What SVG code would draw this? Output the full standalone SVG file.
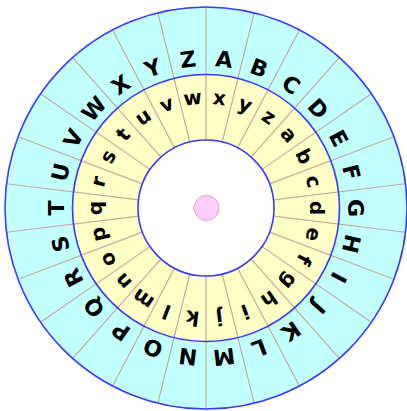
<svg xmlns="http://www.w3.org/2000/svg" xmlns:xlink="http://www.w3.org/1999/xlink" width="407" height="411" viewBox="0 0 407 411">
<style>
.ring{stroke:#3a3aff;stroke-width:1.6;}
.div{stroke:#c4a89c;stroke-width:1.2;}
.up{font-family:"DejaVu Sans",sans-serif;font-weight:bold;font-size:22px;text-anchor:middle;fill:#000;}
.lo{font-family:"DejaVu Sans",sans-serif;font-weight:bold;font-size:20px;text-anchor:middle;fill:#000;}
</style>
<defs>
<line id="d" class="div" x1="206" y1="140" x2="206" y2="7"/>
</defs>
<circle cx="206" cy="208" r="201" fill="#c2ffff"/>
<circle cx="206" cy="208" r="133.5" fill="#ffffc6"/>
<circle cx="206" cy="208" r="68" fill="#ffffff"/>
<g id="dividers">
<use xlink:href="#d" transform="rotate(0 206 208)"/>
<use xlink:href="#d" transform="rotate(13.846 206 208)"/>
<use xlink:href="#d" transform="rotate(27.692 206 208)"/>
<use xlink:href="#d" transform="rotate(41.538 206 208)"/>
<use xlink:href="#d" transform="rotate(55.385 206 208)"/>
<use xlink:href="#d" transform="rotate(69.231 206 208)"/>
<use xlink:href="#d" transform="rotate(83.077 206 208)"/>
<use xlink:href="#d" transform="rotate(96.923 206 208)"/>
<use xlink:href="#d" transform="rotate(110.769 206 208)"/>
<use xlink:href="#d" transform="rotate(124.615 206 208)"/>
<use xlink:href="#d" transform="rotate(138.462 206 208)"/>
<use xlink:href="#d" transform="rotate(152.308 206 208)"/>
<use xlink:href="#d" transform="rotate(166.154 206 208)"/>
<use xlink:href="#d" transform="rotate(180 206 208)"/>
<use xlink:href="#d" transform="rotate(193.846 206 208)"/>
<use xlink:href="#d" transform="rotate(207.692 206 208)"/>
<use xlink:href="#d" transform="rotate(221.538 206 208)"/>
<use xlink:href="#d" transform="rotate(235.385 206 208)"/>
<use xlink:href="#d" transform="rotate(249.231 206 208)"/>
<use xlink:href="#d" transform="rotate(263.077 206 208)"/>
<use xlink:href="#d" transform="rotate(276.923 206 208)"/>
<use xlink:href="#d" transform="rotate(290.769 206 208)"/>
<use xlink:href="#d" transform="rotate(304.615 206 208)"/>
<use xlink:href="#d" transform="rotate(318.462 206 208)"/>
<use xlink:href="#d" transform="rotate(332.308 206 208)"/>
<use xlink:href="#d" transform="rotate(346.154 206 208)"/>
</g>
<g id="rings" fill="none">
<circle class="ring" cx="206" cy="208" r="201"/>
<circle class="ring" cx="206" cy="208" r="133.5"/>
<circle class="ring" cx="206" cy="208" r="68"/>
</g>
<g id="outer-letters">
<text class="up" x="206" y="66" transform="rotate(6.923 206 208)">A</text>
<text class="up" x="206" y="66" transform="rotate(20.769 206 208)">B</text>
<text class="up" x="206" y="66" transform="rotate(34.615 206 208)">C</text>
<text class="up" x="206" y="66" transform="rotate(48.462 206 208)">D</text>
<text class="up" x="206" y="66" transform="rotate(62.308 206 208)">E</text>
<text class="up" x="206" y="66" transform="rotate(76.154 206 208)">F</text>
<text class="up" x="206" y="66" transform="rotate(90 206 208)">G</text>
<text class="up" x="206" y="66" transform="rotate(103.846 206 208)">H</text>
<text class="up" x="206" y="66" transform="rotate(117.692 206 208)">I</text>
<text class="up" x="206" y="66" transform="rotate(131.538 206 208)">J</text>
<text class="up" x="206" y="66" transform="rotate(145.385 206 208)">K</text>
<text class="up" x="206" y="66" transform="rotate(159.231 206 208)">L</text>
<text class="up" x="206" y="66" transform="rotate(173.077 206 208)">M</text>
<text class="up" x="206" y="66" transform="rotate(186.923 206 208)">N</text>
<text class="up" x="206" y="66" transform="rotate(200.769 206 208)">O</text>
<text class="up" x="206" y="66" transform="rotate(214.615 206 208)">P</text>
<text class="up" x="206" y="66" transform="rotate(228.462 206 208)">Q</text>
<text class="up" x="206" y="66" transform="rotate(242.308 206 208)">R</text>
<text class="up" x="206" y="66" transform="rotate(256.154 206 208)">S</text>
<text class="up" x="206" y="66" transform="rotate(270 206 208)">T</text>
<text class="up" x="206" y="66" transform="rotate(283.846 206 208)">U</text>
<text class="up" x="206" y="66" transform="rotate(297.692 206 208)">V</text>
<text class="up" x="206" y="66" transform="rotate(311.538 206 208)">W</text>
<text class="up" x="206" y="66" transform="rotate(325.385 206 208)">X</text>
<text class="up" x="206" y="66" transform="rotate(339.231 206 208)">Y</text>
<text class="up" x="206" y="66" transform="rotate(353.077 206 208)">Z</text>
</g>
<g id="inner-letters">
<text class="lo" x="206" y="104" transform="rotate(6.923 206 208)">x</text>
<text class="lo" x="206" y="104" transform="rotate(20.769 206 208)">y</text>
<text class="lo" x="206" y="104" transform="rotate(34.615 206 208)">z</text>
<text class="lo" x="206" y="104" transform="rotate(48.462 206 208)">a</text>
<text class="lo" x="206" y="104" transform="rotate(62.308 206 208)">b</text>
<text class="lo" x="206" y="104" transform="rotate(76.154 206 208)">c</text>
<text class="lo" x="206" y="104" transform="rotate(90 206 208)">d</text>
<text class="lo" x="206" y="104" transform="rotate(103.846 206 208)">e</text>
<text class="lo" x="206" y="104" transform="rotate(117.692 206 208)">f</text>
<text class="lo" x="206" y="104" transform="rotate(131.538 206 208)">g</text>
<text class="lo" x="206" y="104" transform="rotate(145.385 206 208)">h</text>
<text class="lo" x="206" y="104" transform="rotate(159.231 206 208)">i</text>
<text class="lo" x="206" y="104" transform="rotate(173.077 206 208)">j</text>
<text class="lo" x="206" y="104" transform="rotate(186.923 206 208)">k</text>
<text class="lo" x="206" y="104" transform="rotate(200.769 206 208)">l</text>
<text class="lo" x="206" y="104" transform="rotate(214.615 206 208)">m</text>
<text class="lo" x="206" y="104" transform="rotate(228.462 206 208)">n</text>
<text class="lo" x="206" y="104" transform="rotate(242.308 206 208)">o</text>
<text class="lo" x="206" y="104" transform="rotate(256.154 206 208)">p</text>
<text class="lo" x="206" y="104" transform="rotate(270 206 208)">q</text>
<text class="lo" x="206" y="104" transform="rotate(283.846 206 208)">r</text>
<text class="lo" x="206" y="104" transform="rotate(297.692 206 208)">s</text>
<text class="lo" x="206" y="104" transform="rotate(311.538 206 208)">t</text>
<text class="lo" x="206" y="104" transform="rotate(325.385 206 208)">u</text>
<text class="lo" x="206" y="104" transform="rotate(339.231 206 208)">v</text>
<text class="lo" x="206" y="104" transform="rotate(353.077 206 208)">w</text>
</g>
<circle id="hub" cx="206.5" cy="208" r="12.5" fill="#ffccff" stroke="#dba3c6" stroke-width="1"/>
</svg>
